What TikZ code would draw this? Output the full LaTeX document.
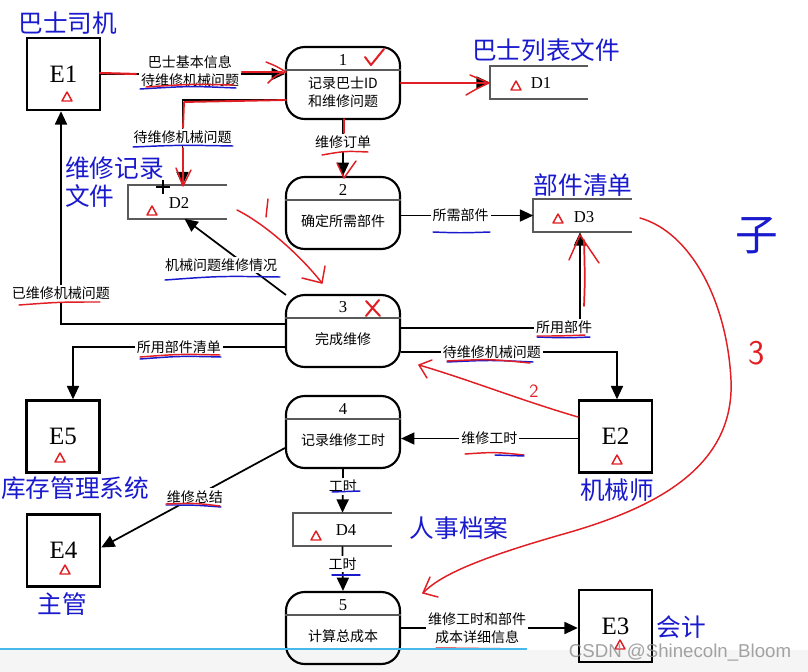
\documentclass[tikz,border=0pt]{standalone}
\usepackage{fontspec}
\setmainfont{Liberation Serif}
\newfontfamily\cjk{Noto Sans CJK SC}
\newfontfamily\wmfont{Liberation Sans}
\usetikzlibrary{arrows.meta,calc}
\definecolor{hblue}{RGB}{25,25,205}
\definecolor{hred}{RGB}{225,30,35}
\definecolor{storegray}{RGB}{90,90,90}
\begin{document}
\begin{tikzpicture}[x=0.75pt,y=-0.75pt,
  ent/.style={draw,line width=1.8pt,minimum width=54.75pt,minimum height=54pt,inner sep=0pt,font=\fontsize{18.75}{20}\selectfont},
  proc/.style={draw,line width=1.6pt,rounded corners=14pt,minimum width=85.5pt,minimum height=54pt,inner sep=0pt},
  store/.style={minimum width=73.5pt,minimum height=24.75pt,inner sep=0pt},
  storeline/.style={draw=storegray,line width=1.5pt},
  divider/.style={line width=1.2pt,draw=black!65},
  num/.style={font=\fontsize{12.5}{14}\selectfont},
  ptext/.style={font=\cjk\fontsize{10.5}{13.5}\selectfont,align=center},
  flow/.style={line width=1.3pt,-{Triangle[length=10pt,width=9pt]}},
  lab/.style={fill=white,inner sep=1.5pt,font=\cjk\fontsize{10.5}{13.5}\selectfont,align=center},
  blab/.style={text=hblue,inner sep=0pt,font=\cjk\fontsize{18.5}{20}\selectfont},
  hw/.style={draw=hred,line width=1.1pt,line cap=round,line join=round},
  hwb/.style={draw=hblue,line width=1.1pt,line cap=round,line join=round},
  tri/.pic={\draw[hred,line width=1.1pt,line join=round] (-5,4)--(0,-5)--(5,4)--cycle;}
]
\useasboundingbox (0,0) rectangle (808,672);
\fill[white] (0,0) rectangle (808,672);

% ---------- external entities ----------
\node[ent] (e1) at (63.5,74) {E1};
\node[ent] (e5) at (63,436.5) {E5};
\node[ent] (e4) at (63.5,550.5) {E4};
\node[ent] (e2) at (615.5,436.5) {E2};
\node[ent] (e3) at (615.5,626) {E3};
\pic at (67,97) {tri};
\pic at (60,458) {tri};
\pic at (65,570) {tri};
\pic at (617,460) {tri};
\pic at (620,645) {tri};

\node[blab] (l-e1) at (68,23) {巴士司机};
\node[blab,anchor=west] (l-e5) at (1,488) {库存管理系统};
\node[blab] (l-e4) at (62,604) {主管};
\node[blab] (l-e2) at (617,490) {机械师};
\node[blab] (l-e3) at (681,627) {会计};

% ---------- processes ----------
\node[proc] (p1) at (343,83) {};
\node[proc] (p2) at (343,213) {};
\node[proc] (p3) at (343,331) {};
\node[proc] (p4) at (343,432) {};
\node[proc] (p5) at (343,628) {};
\foreach \p in {p1,p2,p3,p4,p5}{
  \draw[divider] ($(\p.north west)+(0,24)$) -- ($(\p.north east)+(0,24)$);
}
\node[num] (n1) at (343,60) {1};
\node[num] (n2) at (343,190) {2};
\node[num] (n3) at (343,307) {3};
\node[num] (n4) at (343,409) {4};
\node[num] (n5) at (343,605) {5};
\node[ptext] (t1) at (343,92) {记录巴士ID\\和维修问题};
\node[ptext] (t2) at (343,221) {确定所需部件};
\node[ptext] (t3) at (343,339) {完成维修};
\node[ptext] (t4) at (343,440) {记录维修工时};
\node[ptext] (t5) at (343,636) {计算总成本};

% ---------- data stores ----------
\node[store] (d1) at (539,82.5) {};
\node[store] (d2) at (177.5,202) {};
\node[store] (d3) at (582.5,215.5) {};
\node[store] (d4) at (342.5,529.5) {};
\foreach \d in {d1,d2,d3,d4}{
  \draw[storeline] (\d.north east) -- (\d.north west) -- (\d.south west) -- (\d.south east);
}
\node[num] (s1) at (541,83) {D1};
\node[num] (s2) at (179,203) {D2};
\node[num] (s3) at (584,217) {D3};
\node[num] (s4) at (346,530) {D4};
\pic at (516,86) {tri};
\pic at (152,211) {tri};
\pic at (558,219) {tri};
\pic at (316,536) {tri};

\node[blab] (l-d1) at (546,50) {巴士列表文件};
\node[blab,anchor=west] (l-d2a) at (65,168) {维修记录};
\node[blab,anchor=west] (l-d2b) at (65,196) {文件};
\node[blab] (l-d3) at (583,185) {部件清单};
\node[blab] (l-d4) at (459,528) {人事档案};

% ---------- data flows ----------
\draw[flow] (e1.east) -- (p1.west |- e1.east);
\node[lab] (f1) at (190,71) {巴士基本信息\\待维修机械问题};
\draw[flow] (p1.east |- d1.west) -- (d1.west);
\draw[flow] ($(p1.west)+(0,17)$) -| ($(d2.north)+(5,0)$)
  node[lab,pos=0.72] (f3) {待维修机械问题};
\draw[flow] (p1.south) -- (p2.north) node[lab,pos=0.4] (f4) {维修订单};
\draw[flow] (p2.east |- d3.west) -- (d3.west) node[lab,pos=0.45] (f5) {所需部件};
\draw[flow] ($(p3.north west)+(1,1)$) -- ($(d2.south)+(7,0)$);
\node[lab] (f6) at (221,265) {机械问题维修情况};
\draw[flow] ($(p3.west)+(0,-7)$) -| ($(e1.south)+(-2.5,0)$)
  node[lab,pos=0.572] (f7) {已维修机械问题};
\draw[flow] ($(p3.west)+(0,16)$) -| ($(e5.north)+(10,0)$)
  node[lab,pos=0.25] (f8) {所用部件清单};
\draw[flow] ($(p3.east)+(0,-3)$) -| ($(d3.south)+(-2.5,0)$);
\node[lab] (f9) at (564,327) {所用部件};
\draw[flow] ($(p3.east)+(0,21)$) -| ($(e2.north)+(1.5,0)$)
  node[lab,pos=0.21] (f10) {待维修机械问题};
\draw[flow] ($(e2.west)+(0,2)$) -- ($(p4.east)+(0,6.5)$) node[lab,midway] (f11) {维修工时};
\draw[flow] ($(p4.west)+(0,16)$) -- ($(e4.east)+(0,-3)$) node[lab,pos=0.49] (f12) {维修总结};
\draw[flow] (p4.south) -- (d4.north) node[lab,pos=0.4] (f13) {工时};
\draw[flow] (d4.south) -- (p5.north) node[lab,pos=0.4] (f14) {工时};
\draw[flow] (p5.east) -- (e3.west |- p5.east)
  node[lab,pos=0.43] (f15) {维修工时和部件\\成本详细信息};

% ---------- handwritten red marks over the arrows ----------
\draw[hw,line width=1.6pt] (100,73) -- (136,74);
\draw[hw,line width=1.6pt] (242,72) -- (282,72);
\draw[hw] (266,62) .. controls (276,66) .. (286,72) .. controls (276,75) .. (268,83);
\draw[hw,line width=1.8pt] (401,83) -- (486,83);
\draw[hw] (470,75) .. controls (480,79) .. (489,83) .. controls (478,88) .. (466,95);
\draw[hw,line width=1.4pt] (286,100) -- (184,102) -- (183,128);
\draw[hw,line width=1.4pt] (183,148) -- (183,184);
\draw[hw] (176,168) -- (183,186) -- (191,170);
\draw[hw,line width=1.4pt] (344,119) -- (344,133);
\draw[hw] (337,163) -- (344,178) -- (356,161);
\draw[hw,line width=1.3pt] (584,306) .. controls (585,280) .. (584,240);
\draw[hw] (569,260) -- (580,235) -- (599,263);
% check and cross
\draw[hw,line width=1.5pt] (365,57) -- (371,65) -- (384,49);
\draw[hw,line width=1.5pt] (366,301) -- (380,316) (379,300) -- (366,316);

% ---------- underlines ----------
\draw[hwb] (140,89) .. controls (190,86) .. (236,88);
\draw[hw] (146,87) .. controls (190,84) .. (234,85);
\draw[hwb] (133,147) .. controls (180,145) .. (233,146);
\draw[hw] (322,155) .. controls (345,151) .. (368,152);
\draw[hwb] (433,232) .. controls (460,233) .. (490,232);
\draw[hwb] (165,280) .. controls (220,276) .. (280,277);
\draw[hw] (19,305) .. controls (60,302) .. (100,302);
\draw[hwb] (140,359) .. controls (180,356) .. (221,357);
\draw[hw] (140,357) .. controls (180,354) .. (220,355);
\draw[hwb] (537,337) .. controls (565,338) .. (590,337);
\draw[hw] (537,336) .. controls (560,336) .. (585,335);
\draw[hwb] (447,362) .. controls (490,360) .. (533,362);
\draw[hw] (447,361) .. controls (490,359) .. (530,363);
\draw[hw] (465,454) .. controls (495,452) .. (524,455);
\draw[hwb] (495,455) -- (524,456);
\draw[hwb] (166,505) .. controls (195,505) .. (221,507);
\draw[hw] (166,504) .. controls (195,503) .. (220,506);
\draw[hwb] (332,492) -- (360,491);
\draw[hwb] (332,575) -- (360,575);
\draw[hw] (436,648) -- (525,649);

% ---------- handwritten annotation curves ----------
\draw[hw] (237,210) .. controls (265,224) and (300,255) .. (322,283);
\draw[hw] (302,278) -- (322,283) -- (325,266);
\draw[hw] (268,199) -- (266,217);
\draw[hw] (578,417) .. controls (520,400) and (470,380) .. (419,365);
\draw[hw] (432,360) -- (419,365) -- (427,378);
\node[text=hred,font=\sffamily\fontsize{14}{15}\selectfont] (h2) at (534,391) {2};
\draw[hw] (640,218) .. controls (690,232) and (727,300) .. (731,380)
  .. controls (735,470) and (650,510) .. (560,535)
  .. controls (480,558) and (440,575) .. (423,593);
\draw[hw] (430,577) -- (423,593) -- (438,597);
\node[text=hred,font=\sffamily\fontsize{26}{28}\selectfont] (h3) at (757,353) {3};
\node[text=hblue,font=\cjk\fontsize{32}{34}\selectfont] (h4) at (757,236) {子};

% cursor
\draw[line width=0.8pt] (156,187) -- (170,187) (163,180) -- (163,194);

% ---------- screen capture bottom ----------
\fill[black,opacity=0.04] (0,650) rectangle (808,672);
\draw[line width=2.2pt,draw={rgb,255:red,70;green,185;blue,235}] (0,649) -- (527,649);
\node[text=black!45,opacity=0.8,font=\wmfont\fontsize{14}{16}\selectfont] (wm) at (680,653) {CSDN @Shinecoln\_Bloom};
\end{tikzpicture}
\end{document}
